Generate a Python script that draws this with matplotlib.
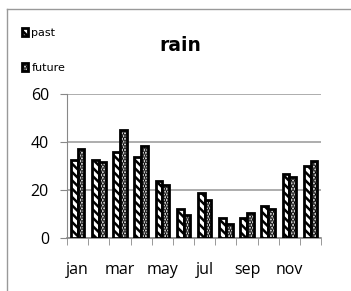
import numpy as np
import matplotlib
matplotlib.use("Agg")
import matplotlib.pyplot as plt
from matplotlib.lines import Line2D

months = ["jan", "feb", "mar", "apr", "may", "jun",
          "jul", "aug", "sep", "oct", "nov", "dec"]
past = [32.5, 32.5, 35.8, 33.6, 23.9, 12.0, 18.6, 8.4, 8.4, 13.3, 26.5, 30.0]
future = [37.2, 31.5, 44.8, 38.4, 22.3, 9.5, 16.0, 5.7, 10.5, 12.3, 25.5, 32.0]
yticks = [0, 20, 40, 60]

plt.rcParams["hatch.linewidth"] = 1.8
plt.rcParams["font.family"] = ["Open Sans", "DejaVu Sans"]

fig = plt.figure(figsize=(3.51, 2.91), dpi=100)
ax = fig.add_axes([0.191, 0.182, 0.724, 0.495])

x = np.arange(len(months))
w = 0.32
ax.bar(x - w / 2, past, w, color="white", edgecolor="black", linewidth=2,
       hatch="\\\\\\\\", label="past", zorder=3)
ax.bar(x + w / 2, future, w, color="white", edgecolor="black", linewidth=2,
       hatch="......", label="future", zorder=3)

ax.set_xlim(-0.5, 11.5)
ax.set_ylim(0, 60)
ax.set_yticks(yticks)
ax.tick_params(axis="y", length=5, color="#888888", labelsize=11.5, pad=8)
ax.set_xticks(x[::2])
ax.set_xticklabels(months[::2])
ax.set_xticks(np.arange(-0.5, 12, 1), minor=True)
ax.tick_params(axis="x", which="major", length=0, labelsize=11.5, pad=17)
ax.tick_params(axis="x", which="minor", length=5, color="#888888")
ax.yaxis.grid(True, color="#a0a0a0", linewidth=1.2, zorder=0)
for s in ["top", "right"]:
    ax.spines[s].set_visible(False)
ax.spines["left"].set_color("#888888")
ax.spines["bottom"].set_color("#888888")
ax.spines["bottom"].set_linewidth(1.2)

fig.text(0.515, 0.845, "rain", ha="center", va="center", fontsize=13.5,
         fontweight="bold", family="DejaVu Sans")

fig.legend(loc="upper left", bbox_to_anchor=(0.062, 0.905), frameon=False,
           prop={"family": ["Liberation Sans Narrow", "DejaVu Sans"], "size": 8},
           labelspacing=2.3, handlelength=0.6, handleheight=0.7,
           handletextpad=0.25, borderpad=0, borderaxespad=0)

# outer chart frame
fig.add_artist(Line2D([0.02, 0.02], [0, 0.969], transform=fig.transFigure,
                      color="#999999", linewidth=1))
fig.add_artist(Line2D([0.02, 1.0], [0.969, 0.969], transform=fig.transFigure,
                      color="#999999", linewidth=1))

fig.savefig("out.png", dpi=100)
